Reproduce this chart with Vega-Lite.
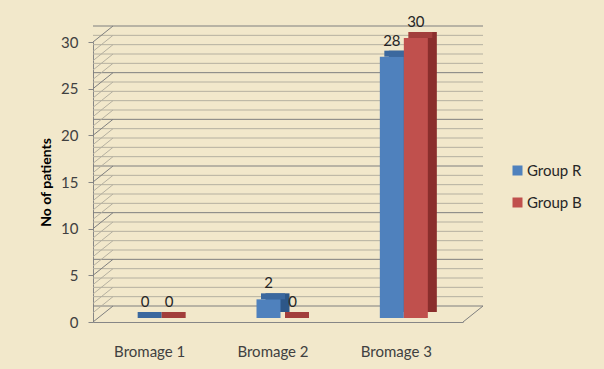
{
  "$schema": "https://vega.github.io/schema/vega-lite/v6.json",
  "width": 370,
  "height": 280,
  "autosize": {"type": "none"},
  "padding": {"left": 93, "top": 42, "right": 141, "bottom": 47},
  "background": "#F2E8CB",
  "config": {
    "view": {"stroke": null},
    "font": "Lato",
    "axis": {"labelFont": "Lato", "titleFont": "Lato", "labelColor": "#404040", "labelFontSize": 15, "grid": false}
  },
  "resolve": {"scale": {"x": "independent"}},
  "datasets": {
    "bars": [
      {"stage": "Bromage 1", "group": "Group R", "n": 0},
      {"stage": "Bromage 1", "group": "Group B", "n": 0},
      {"stage": "Bromage 2", "group": "Group R", "n": 2},
      {"stage": "Bromage 2", "group": "Group B", "n": 0},
      {"stage": "Bromage 3", "group": "Group R", "n": 28},
      {"stage": "Bromage 3", "group": "Group B", "n": 30}
    ],
    "grid": [
      {"v": 0}, {"v": 1}, {"v": 2}, {"v": 3}, {"v": 4}, {"v": 5}, {"v": 6}, {"v": 7}, {"v": 8}, {"v": 9},
      {"v": 10}, {"v": 11}, {"v": 12}, {"v": 13}, {"v": 14}, {"v": 15}, {"v": 16}, {"v": 17}, {"v": 18}, {"v": 19},
      {"v": 20}, {"v": 21}, {"v": 22}, {"v": 23}, {"v": 24}, {"v": 25}, {"v": 26}, {"v": 27}, {"v": 28}, {"v": 29}, {"v": 30}
    ]
  },
  "layer": [
    {
      "data": {"name": "grid"},
      "mark": {"type": "rule", "xOffset": 20, "x2Offset": 20, "yOffset": -16, "strokeWidth": 1},
      "encoding": {
        "y": {"field": "v", "type": "quantitative", "scale": {"domain": [0, 30], "nice": false},
              "axis": {"title": "No of patients", "values": [0, 5, 10, 15, 20, 25, 30], "domainColor": "#868686", "tickColor": "#868686", "tickSize": 5, "labelPadding": 10, "titleFontSize": 14, "titleFontWeight": "bold", "titleColor": "#000000", "titlePadding": 7}},
        "color": {"condition": {"test": "datum.v % 5 == 0", "value": "#7f7f7f"}, "value": "#b5b0a0"}
      }
    },
    {
      "data": {"name": "grid"},
      "mark": {"type": "rule", "x2Offset": 20, "y2Offset": -16, "strokeWidth": 1},
      "encoding": {
        "x": {"datum": 0, "type": "quantitative", "scale": {"domain": [0, 1]}, "axis": null},
        "x2": {"datum": 0},
        "y": {"field": "v", "type": "quantitative", "axis": {"title": "No of patients"}},
        "y2": {"field": "v"},
        "color": {"condition": {"test": "datum.v % 5 == 0", "value": "#7f7f7f"}, "value": "#b5b0a0"}
      }
    },
    {
      "data": {"name": "grid"},
      "transform": [{"filter": "datum.v == 0"}],
      "mark": {"type": "rule", "x2Offset": 20, "y2Offset": -16, "strokeWidth": 1, "color": "#7f7f7f"},
      "encoding": {
        "x": {"datum": 1, "type": "quantitative", "scale": {"domain": [0, 1]}, "axis": null},
        "x2": {"datum": 1},
        "y": {"field": "v", "type": "quantitative", "axis": {"title": "No of patients"}},
        "y2": {"field": "v"}
      }
    },
    {
      "data": {"name": "bars"},
      "resolve": {"scale": {"color": "independent", "xOffset": "independent"}, "legend": {"color": "independent"}},
      "layer": [
        {
          "mark": {"type": "bar", "yOffset": -10, "y2Offset": -10},
          "encoding": {
            "x": {"field": "stage", "type": "nominal", "scale": {"paddingInner": 0, "paddingOuter": 0}, "axis": {"title": null, "labelAngle": 0, "ticks": false, "domainColor": "#868686", "labelPadding": 22, "labelOffset": -5, "labelColor": "#404040"}},
            "xOffset": {"field": "group", "type": "nominal", "sort": ["Group R", "Group B"], "scale": {"range": [49.17, 97.17], "paddingInner": 0, "paddingOuter": 0}},
            "y": {"field": "n", "type": "quantitative", "axis": {"title": "No of patients"}},
            "color": {"field": "group", "type": "nominal", "sort": ["Group R", "Group B"], "scale": {"domain": ["Group R", "Group B"], "range": ["#2d5788", "#8a2e2c"]}, "legend": null}
          }
        },
        {
          "mark": {"type": "bar", "yOffset": -4, "y2Offset": -10},
          "encoding": {
            "x": {"field": "stage", "type": "nominal"},
            "xOffset": {"field": "group", "type": "nominal", "sort": ["Group R", "Group B"], "scale": {"range": [44.67, 92.67], "paddingInner": 0, "paddingOuter": 0}},
            "y": {"field": "n", "type": "quantitative", "axis": {"title": "No of patients"}},
            "y2": {"field": "n"},
            "color": {"field": "group", "type": "nominal", "sort": ["Group R", "Group B"], "scale": {"domain": ["Group R", "Group B"], "range": ["#3b689e", "#a23e3b"]}, "legend": null}
          }
        },
        {
          "mark": {"type": "bar", "yOffset": -4, "y2Offset": -4},
          "encoding": {
            "x": {"field": "stage", "type": "nominal"},
            "xOffset": {"field": "group", "type": "nominal", "sort": ["Group R", "Group B"], "scale": {"range": [40.17, 88.17], "paddingInner": 0, "paddingOuter": 0}},
            "y": {"field": "n", "type": "quantitative", "axis": {"title": "No of patients"}},
            "color": {"field": "group", "type": "nominal", "sort": ["Group R", "Group B"], "scale": {"domain": ["Group R", "Group B"], "range": ["#4F81BD", "#C0504D"]},
                      "legend": {"title": null, "orient": "none", "legendX": 417, "legendY": 121, "symbolType": "square", "symbolSize": 100, "symbolStrokeWidth": 0, "labelFontSize": 15, "labelFont": "Lato", "labelColor": "#262626", "rowPadding": 16, "labelOffset": 2}}
          }
        },
        {
          "mark": {"type": "text", "baseline": "middle", "dy": -20, "fontSize": 15, "color": "#262626"},
          "encoding": {
            "x": {"field": "stage", "type": "nominal"},
            "xOffset": {"field": "group", "type": "nominal", "sort": ["Group R", "Group B"], "scale": {"range": [52.17, 76.17], "padding": 0}},
            "y": {"field": "n", "type": "quantitative", "axis": {"title": "No of patients"}},
            "text": {"field": "n", "type": "quantitative"}
          }
        }
      ]
    }
  ]
}
